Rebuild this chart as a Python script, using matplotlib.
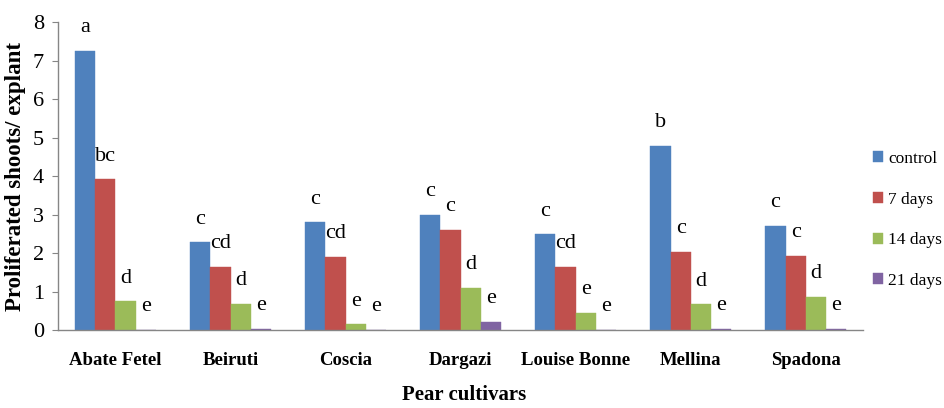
import matplotlib
matplotlib.use("Agg")
import matplotlib.pyplot as plt
import numpy as np

cultivars = ["Abate Fetel", "Beiruti", "Coscia", "Dargazi", "Louise Bonne", "Mellina", "Spadona"]
series_names = ["control", "7 days", "14 days", "21 days"]
control = [7.25, 2.28, 2.80, 2.99, 2.49, 4.79, 2.71]
days7 = [3.92, 1.64, 1.90, 2.60, 1.64, 2.03, 1.93]
days14 = [0.75, 0.69, 0.15, 1.10, 0.45, 0.67, 0.87]
days21 = [0.0, 0.04, 0.0, 0.22, 0.0, 0.04, 0.04]
letters_control = ["a", "c", "c", "c", "c", "b", "c"]
letters_7 = ["bc", "cd", "cd", "c", "cd", "c", "c"]
letters_14 = ["d", "d", "e", "d", "e", "d", "d"]
letters_21 = ["e", "e", "e", "e", "e", "e", "e"]
y_ticks = [0, 1, 2, 3, 4, 5, 6, 7, 8]

colors = ["#4F81BD", "#C0504D", "#9BBB59", "#8064A2"]

plt.rcParams['font.family'] = ['Liberation Serif', 'DejaVu Serif']

fig = plt.figure(figsize=(9.44, 4.08), dpi=100)
ax = fig.add_axes([0.0614, 0.191, 0.853, 0.755])

values = [control, days7, days14, days21]
letters = [letters_control, letters_7, letters_14, letters_21]
x = np.arange(len(cultivars))
w = 0.175
for i, (vals, name, col, labs) in enumerate(zip(values, series_names, colors, letters)):
    pos = x + (i - 1.5) * w
    ax.bar(pos, vals, width=w, color=col, label=name, edgecolor=col, linewidth=0.3)
    for px, v, lab in zip(pos, vals, labs):
        ax.text(px, v + 0.60, lab, ha="center", va="center", fontsize=16)

ax.set_xlim(-0.5, len(cultivars) - 0.5)
ax.set_ylim(0, 8)
ax.set_yticks(y_ticks)
ax.set_yticklabels([str(t) for t in y_ticks], fontsize=16)
ax.set_xticks(x)
ax.set_xticklabels(cultivars, fontsize=13.5, fontweight="bold")
ax.tick_params(axis="x", length=0, pad=16)
ax.tick_params(axis="y", length=4, direction="out", color="#868686", pad=6)
for s in ["top", "right"]:
    ax.spines[s].set_visible(False)
for s in ["left", "bottom"]:
    ax.spines[s].set_color("#868686")
    ax.spines[s].set_linewidth(1.0)

ax.set_ylabel("Proliferated shoots/ explant", fontsize=16.5, fontweight="bold", labelpad=5)
fig.text(0.492, 0.032, "Pear cultivars", fontsize=15, fontweight="bold", ha="center", va="center")

leg = fig.legend(loc="upper left", bbox_to_anchor=(0.917, 0.647), frameon=False,
                 fontsize=12.5, handlelength=0.6, handleheight=0.6, handletextpad=0.3,
                 labelspacing=1.42, borderaxespad=0)

fig.savefig("out.png", dpi=100)
